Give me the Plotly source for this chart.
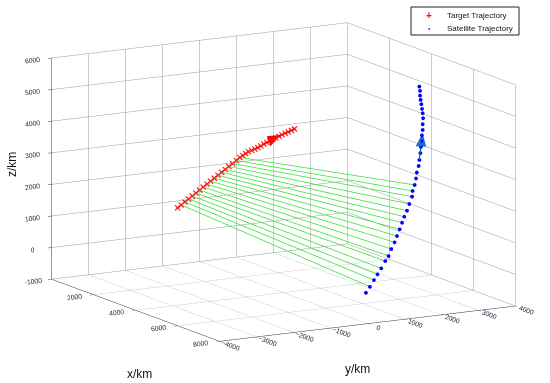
import numpy as np
import plotly.graph_objects as go

# ---------------- data (km) ----------------
x_ticks = [0, 2000, 4000, 6000, 8000]
y_ticks = [-4000, -3000, -2000, -1000, 0, 1000, 2000, 3000, 4000]
z_ticks = [-1000, 0, 1000, 2000, 3000, 4000, 5000, 6000]

target_x = [2000] * 36
target_y = [-1730, -1630, -1532, -1432, -1334, -1234, -1133, -1036, -935, -838,
            -737, -637, -540, -439, -342, -241, -141, -41, 35, 111,
            187, 274, 361, 442, 523, 602, 684, 765, 849, 930,
            1014, 1098, 1180, 1264, 1348, 1432]
target_z = [1434, 1512, 1594, 1672, 1753, 1831, 1912, 1994, 2072, 2153,
            2231, 2312, 2391, 2468, 2550, 2628, 2709, 2790, 2843, 2893,
            2945, 2971, 3001, 3037, 3079, 3126, 3165, 3201, 3240, 3276,
            3312, 3351, 3388, 3420, 3456, 3489]

sat_x = [5000] * 36
sat_y = [1660, 1768, 1877, 1974, 2075, 2183, 2273, 2346, 2435, 2500,
         2571, 2636, 2698, 2771, 2834, 2907, 2923, 2978, 3015, 3037,
         3086, 3105, 3132, 3146, 3159, 3173, 3195, 3195, 3206, 3195,
         3178, 3159, 3140, 3124, 3124, 3105]
sat_z = [-991, -816, -619, -452, -276, -59, 87, 298, 498, 688,
         891, 1091, 1272, 1452, 1656, 1877, 2055, 2237, 2438, 2625,
         2824, 3012, 3229, 3418, 3606, 3778, 3949, 4130, 4318, 4478,
         4617, 4768, 4907, 5045, 5194, 5333]

los_idx = list(range(1, 18))  # line-of-sight samples

# arrows: start and tip
red_arrow_start = [2000, 361, 3001]
red_arrow_tip = [2000, 1044, 3352]
blue_arrow_start = [5000, 3105, 3012]
blue_arrow_tip = [5000, 3195, 3845]

legend_names = ["Target Trajectory", "Satellite Trajectory"]

# ---------------- figure ----------------
fig = go.Figure()

lx, ly, lz = [], [], []
for i in los_idx:
    lx += [target_x[i], sat_x[i], None]
    ly += [target_y[i], sat_y[i], None]
    lz += [target_z[i], sat_z[i], None]
fig.add_trace(go.Scatter3d(x=lx, y=ly, z=lz, mode="lines",
                           line=dict(color="#33e033", width=1.5),
                           showlegend=False, hoverinfo="skip"))

fig.add_trace(go.Scatter3d(x=target_x, y=target_y, z=target_z, mode="markers",
                           name=legend_names[0], showlegend=False,
                           marker=dict(symbol="cross", size=1.5, color="#ff1010")))
fig.add_trace(go.Scatter3d(x=target_x, y=target_y, z=target_z, mode="markers",
                           showlegend=False, hoverinfo="skip",
                           marker=dict(symbol="x", size=1.3, color="#ff1010")))
fig.add_trace(go.Scatter3d(x=sat_x, y=sat_y, z=sat_z, mode="markers",
                           name=legend_names[1], showlegend=False,
                           marker=dict(symbol="circle", size=2.2, color="#0000ff")))


def add_arrow(start, tip, color, head_frac, half_width):
    s = np.array(start, float)
    t = np.array(tip, float)
    fig.add_trace(go.Scatter3d(x=[s[0], t[0]], y=[s[1], t[1]], z=[s[2], t[2]],
                               mode="lines", line=dict(color=color, width=2.5),
                               showlegend=False, hoverinfo="skip"))
    base = t - head_frac * (t - s)
    d = t - s
    sy, sz = 1 / 8000.0, 1 / 7000.0 * 0.665
    perp = np.array([0.0, -d[2] * sz / sy, d[1] * sy / sz])
    perp_n = np.array([0.0, perp[1] * sy, perp[2] * sz])
    perp = perp / np.linalg.norm(perp_n) * half_width
    p1 = base + perp
    p2 = base - perp
    fig.add_trace(go.Mesh3d(x=[t[0], p1[0], p2[0]], y=[t[1], p1[1], p2[1]],
                            z=[t[2], p1[2], p2[2]], i=[0], j=[1], k=[2],
                            color=color, flatshading=True, hoverinfo="skip",
                            lighting=dict(ambient=1, diffuse=0, specular=0,
                                          fresnel=0, roughness=1),
                            showscale=False))


add_arrow(red_arrow_start, red_arrow_tip, "#ff0000", 0.45, 0.017)
add_arrow(blue_arrow_start, blue_arrow_tip, "#1070c8", 0.5, 0.018)

axis_common = dict(showbackground=False, gridcolor="#9a9a9a", gridwidth=1,
                   showline=True, linecolor="#333333", linewidth=1,
                   zeroline=False, ticks="outside", ticklen=4,
                   tickcolor="#333333", showspikes=False,
                   tickfont=dict(family="Liberation Sans, Arial", size=9,
                                 color="#262640"),
                   title=dict(text=""))


def ann(text, x, y, size, color="#111111", xanchor="center", angle=0):
    return dict(text=text, x=x / 550, y=1 - y / 383, xref="paper", yref="paper",
                xanchor=xanchor, yanchor="middle", showarrow=False,
                textangle=angle, font=dict(size=size, color=color))


S = 1.89
fig.update_layout(
    width=550, height=383,
    margin=dict(l=0, r=0, t=0, b=0),
    paper_bgcolor="white",
    showlegend=False,
    font=dict(family="Liberation Sans, Arial"),
    scene=dict(
        domain=dict(x=[0.046, 0.986], y=[0.0556, 0.9956]),
        xaxis=dict(range=[0, 8000], tickvals=x_ticks, **axis_common),
        yaxis=dict(range=[-4000, 4000], tickvals=y_ticks, **axis_common),
        zaxis=dict(range=[-1000, 6000], tickvals=z_ticks, **axis_common),
        aspectmode="manual",
        aspectratio=dict(x=S, y=S, z=0.665 * S),
        camera=dict(eye=dict(x=0.850 * 3, y=-0.483 * 3, z=0.210 * 3),
                    up=dict(x=0, y=0, z=1), center=dict(x=0, y=0, z=0),
                    projection=dict(type="orthographic")),
    ),
    shapes=[dict(type="rect", xref="paper", yref="paper",
                 x0=411 / 550, x1=519 / 550, y0=1 - 35 / 383, y1=1 - 7 / 383,
                 line=dict(color="#222222", width=1), fillcolor="white")],
    annotations=[
        ann("x/km", 140, 374, 12),
        ann("y/km", 357, 369, 12),
        ann("z/km", 12, 165, 12, angle=-90),
        ann("<b>+</b>", 429, 15.5, 10, color="#ff1010"),
        ann("●", 429, 28.3, 4, color="#0000ff"),
        ann(legend_names[0], 445, 15.5, 8, xanchor="left"),
        ann(legend_names[1], 445, 28.3, 8, xanchor="left"),
    ],
)

fig.write_html("out.html", config={"displayModeBar": False},
               post_script="document.body.style.margin='0';")
